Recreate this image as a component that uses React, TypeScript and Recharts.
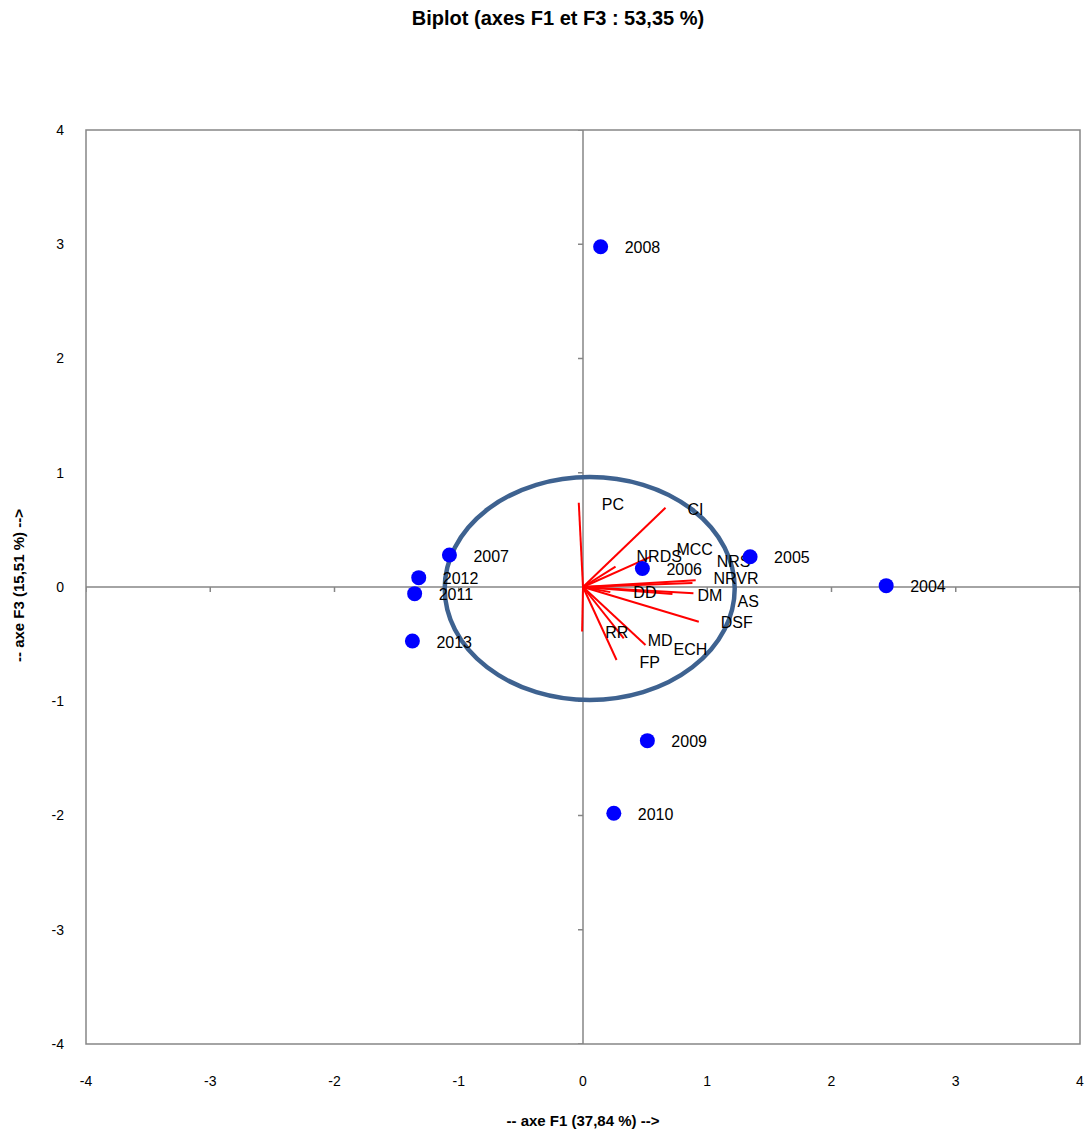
import { ScatterChart, Scatter, XAxis, YAxis, ReferenceLine, ReferenceArea, ReferenceDot } from "recharts";

// observations (years) on F1 / F3
const years = ["2004", "2005", "2006", "2007", "2008", "2009", "2010", "2011", "2012", "2013"];
const yearF1 = [2.44, 1.345, 0.478, -1.075, 0.142, 0.518, 0.248, -1.355, -1.322, -1.373];
const yearF3 = [0.012, 0.265, 0.162, 0.28, 2.978, -1.345, -1.98, -0.058, 0.082, -0.473];

// variables (correlation vectors)
const variables = ["PC", "CI", "NRDS", "MCC", "NRS", "NRVR", "DD", "DM", "AS", "DSF", "RR", "MD", "ECH", "FP"];
const varF1 = [-0.034, 0.664, 0.262, 0.543, 0.907, 0.881, 0.22, 0.72, 0.889, 0.932, -0.007, 0.328, 0.503, 0.27];
const varF3 = [0.738, 0.694, 0.178, 0.263, 0.06, 0.035, -0.045, -0.061, -0.055, -0.304, -0.39, -0.449, -0.508, -0.639];

const axisTicks = [-4, -3, -2, -1, 0, 1, 2, 3, 4];

// correlation circle as drawn (centre and radii in axis units)
const circleCenter = { x: 0.054, y: -0.013 };
const circleRadius = { x: 1.167, y: 0.976 };

// label nudges (px) from the vector tip
const labelNudge: Record<string, [number, number]> = {
  PC: [23, 2], CI: [22, 2], NRDS: [21, -10], MCC: [26, -7], NRS: [21, -19], NRVR: [21, -5],
  DD: [23, 0], DM: [25, 2], AS: [44, 8], DSF: [22, 1], RR: [23, 1], MD: [24, 2], ECH: [28, 4], FP: [23, 2],
};

const W = 1087;
const H = 1133;
const margin = { top: 130, right: 7, bottom: 0, left: 26 };
const yAxisW = 60;
const xAxisH = 89;
const plotW = W - margin.left - margin.right - yAxisW;
const plotH = H - margin.top - margin.bottom - xAxisH;
const domain: [number, number] = [-4, 4];

const font = "'Liberation Sans', Arial, sans-serif";
const gray = "#868686";

const yearData = years.map((name, i) => ({ name, x: yearF1[i], y: yearF3[i] }));
const varData = variables.map((name, i) => ({ name, x: varF1[i], y: varF3[i] }));
const xTickData = axisTicks.filter((v) => v !== 0).map((v) => ({ x: v, y: 0 }));
const yTickData = axisTicks.filter((v) => v !== 0).map((v) => ({ x: 0, y: v }));

export default function App() {
  const rx = (circleRadius.x * plotW) / (domain[1] - domain[0]);
  const ry = (circleRadius.y * plotH) / (domain[1] - domain[0]);
  return (
    <div style={{ position: "absolute", left: 0, top: 0, width: W, height: H, fontFamily: font, background: "#fff" }}>
      <div style={{ position: "absolute", top: 7, left: 0, width: 1116, textAlign: "center", fontWeight: "bold", fontSize: 20 }}>
        Biplot (axes F1 et F3 : 53,35 %)
      </div>
      <div style={{ position: "absolute", top: 1112, left: 0, width: 1166, textAlign: "center", fontWeight: "bold", fontSize: 15 }}>
        -- axe F1 (37,84 %) --&gt;
      </div>
      <div
        style={{
          position: "absolute", left: 18, top: 587, width: 300, marginLeft: -150, marginTop: -10,
          textAlign: "center", fontWeight: "bold", fontSize: 15, transform: "rotate(-90deg)",
        }}
      >
        -- axe F3 (15,51 %) --&gt;
      </div>
      <ScatterChart width={W} height={H} margin={margin}>
        <XAxis
          type="number" dataKey="x" domain={domain} ticks={axisTicks} allowDataOverflow
          axisLine={false} tickLine={false} tickSize={0} tickMargin={32} height={xAxisH}
          tick={{ fontSize: 14, fill: "#000", fontFamily: font }}
        />
        <YAxis
          type="number" dataKey="y" domain={domain} ticks={axisTicks} allowDataOverflow
          axisLine={false} tickLine={false} tickSize={0} tickMargin={22} width={yAxisW}
          tick={{ fontSize: 14, fill: "#000", fontFamily: font }}
        />
        <ReferenceArea x1={-4} x2={4} y1={-4} y2={4} fill="none" stroke={gray} strokeWidth={1.5} />
        <ReferenceLine x={0} stroke={gray} strokeWidth={1.5} />
        <ReferenceLine y={0} stroke={gray} strokeWidth={1.5} />
        <Scatter
          data={xTickData} isAnimationActive={false}
          shape={(p: any) => <line x1={p.cx} x2={p.cx} y1={p.cy} y2={p.cy + 5} stroke={gray} strokeWidth={1.5} />}
        />
        <Scatter
          data={yTickData} isAnimationActive={false}
          shape={(p: any) => <line x1={p.cx - 5} x2={p.cx} y1={p.cy} y2={p.cy} stroke={gray} strokeWidth={1.5} />}
        />
        {varData.map((v) => (
          <Scatter
            key={v.name}
            data={[{ x: 0, y: 0 }, { x: v.x, y: v.y }]}
            line={{ stroke: "#FF0000", strokeWidth: 2 }}
            shape={() => <g />}
            isAnimationActive={false}
          />
        ))}
        <ReferenceDot
          x={circleCenter.x} y={circleCenter.y}
          shape={(p: any) => <ellipse cx={p.cx} cy={p.cy} rx={rx} ry={ry} fill="none" stroke="#3E6290" strokeWidth={4.5} />}
        />
        <Scatter
          data={varData} isAnimationActive={false}
          shape={(p: any) => {
            const [dx, dy] = labelNudge[p.payload.name] || [23, 0];
            return (
              <text x={p.cx + dx} y={p.cy + dy} dominantBaseline="central" fontSize={16} fontFamily={font} fill="#000">
                {p.payload.name}
              </text>
            );
          }}
        />
        <Scatter
          data={yearData} isAnimationActive={false}
          shape={(p: any) => (
            <g>
              <circle cx={p.cx} cy={p.cy} r={7.5} fill="#0000FF" />
              <text x={p.cx + 24} y={p.cy + 1} dominantBaseline="central" fontSize={16} fontFamily={font} fill="#000">
                {p.payload.name}
              </text>
            </g>
          )}
        />
      </ScatterChart>
    </div>
  );
}
